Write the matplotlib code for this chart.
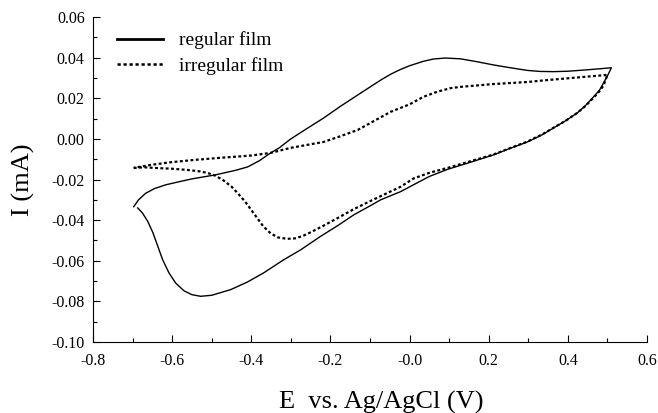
import matplotlib
matplotlib.use("Agg")
import matplotlib.pyplot as plt
from matplotlib.lines import Line2D
from matplotlib.ticker import MultipleLocator

plt.rcParams['font.family'] = ['Liberation Serif', 'DejaVu Serif']

# regular film: forward (lower) branch then reverse (upper) branch
reg_E = [-0.687, -0.675, -0.662, -0.649, -0.636, -0.624, -0.608, -0.591, -0.570, -0.550,
         -0.528, -0.500, -0.452, -0.410, -0.369, -0.318, -0.275, -0.225, -0.180, -0.141,
         -0.100, -0.073, -0.023, 0.010, 0.050, 0.096, 0.154, 0.212, 0.255, 0.298,
         0.335, 0.364, 0.395, 0.424, 0.445, 0.465, 0.480, 0.490, 0.500, 0.510,
         0.449, 0.400, 0.364, 0.330, 0.298, 0.255, 0.212, 0.170, 0.129, 0.090,
         0.060, 0.035, 0.000, -0.025, -0.048, -0.070, -0.090, -0.131, -0.175, -0.217,
         -0.260, -0.300, -0.330, -0.351, -0.380, -0.409, -0.440, -0.490, -0.550, -0.580,
         -0.616, -0.645, -0.667, -0.685, -0.697]
reg_I = [-0.0340, -0.0365, -0.0405, -0.0460, -0.0530, -0.0595, -0.0660, -0.0710, -0.0748, -0.0767,
         -0.0775, -0.0770, -0.0742, -0.0705, -0.0660, -0.0595, -0.0546, -0.0480, -0.0425, -0.0374,
         -0.0330, -0.0300, -0.0260, -0.0226, -0.0185, -0.0150, -0.0115, -0.0079, -0.0046, -0.0015,
         0.0020, 0.0054, 0.0090, 0.0128, 0.0165, 0.0207, 0.0240, 0.0275, 0.0310, 0.0350,
         0.0340, 0.0333, 0.0331, 0.0332, 0.0337, 0.0350, 0.0364, 0.0380, 0.0394, 0.0398,
         0.0393, 0.0382, 0.0360, 0.0340, 0.0318, 0.0293, 0.0268, 0.0216, 0.0160, 0.0103,
         0.0050, 0.0000, -0.0045, -0.0069, -0.0108, -0.0138, -0.0155, -0.0177, -0.0197, -0.0210,
         -0.0226, -0.0245, -0.0268, -0.0300, -0.0334]

# irregular film
irr_E = [-0.697, -0.670, -0.646, -0.600, -0.561, -0.530, -0.510, -0.490, -0.470, -0.450,
         -0.434, -0.415, -0.400, -0.385, -0.370, -0.351, -0.333, -0.310, -0.290, -0.270,
         -0.250, -0.215, -0.182, -0.140, -0.098, -0.060, -0.023, 0.010, 0.050, 0.096,
         0.154, 0.212, 0.255, 0.298, 0.335, 0.364, 0.395, 0.424, 0.445, 0.465,
         0.480, 0.490, 0.500,
         0.440, 0.381, 0.340, 0.298, 0.255, 0.212, 0.170, 0.129, 0.104, 0.070,
         0.035, 0.000, -0.048, -0.090, -0.131, -0.175, -0.217, -0.260, -0.300, -0.351,
         -0.400, -0.477, -0.540, -0.604, -0.650, -0.680, -0.697]
irr_I = [-0.0143, -0.0140, -0.0143, -0.0147, -0.0153, -0.0160, -0.0168, -0.0182, -0.0205, -0.0235,
         -0.0268, -0.0310, -0.0350, -0.0390, -0.0430, -0.0465, -0.0485, -0.0492, -0.0490, -0.0478,
         -0.0460, -0.0425, -0.0390, -0.0345, -0.0305, -0.0270, -0.0236, -0.0195, -0.0167, -0.0143,
         -0.0110, -0.0077, -0.0045, -0.0013, 0.0022, 0.0055, 0.0090, 0.0128, 0.0163, 0.0203,
         0.0235, 0.0262, 0.0315,
         0.0305, 0.0295, 0.0288, 0.0280, 0.0275, 0.0270, 0.0263, 0.0256, 0.0250, 0.0232,
         0.0207, 0.0170, 0.0133, 0.0088, 0.0044, 0.0013, -0.0015, -0.0030, -0.0044, -0.0069,
         -0.0082, -0.0093, -0.0103, -0.0115, -0.0127, -0.0137, -0.0143]

x_ticks = [-0.8, -0.6, -0.4, -0.2, 0.0, 0.2, 0.4, 0.6]
x_labels = ['-0.8', '-0.6', '-0.4', '-0.2', '-0.0', '0.2', '0.4', '0.6']
y_ticks = [-0.10, -0.08, -0.06, -0.04, -0.02, 0.00, 0.02, 0.04, 0.06]
y_labels = ['-0.10', '-0.08', '-0.06', '-0.04', '-0.02', '0.00', '0.02', '0.04', '0.06']

fig = plt.figure(figsize=(6.58, 4.13), dpi=100)
ax = fig.add_axes([93/658, 1 - 342/413, (647 - 93)/658, (342 - 17)/413])

dot_style = (0, (1.3, 1.1))
ax.plot(reg_E, reg_I, color='black', lw=1.0, solid_joinstyle='round')
ax.plot(irr_E, irr_I, color='black', lw=1.6, linestyle=dot_style)

ax.set_xlim(-0.8, 0.6)
ax.set_ylim(-0.10, 0.06)
ax.set_xticks(x_ticks)
ax.set_xticklabels(x_labels)
ax.set_yticks(y_ticks)
ax.set_yticklabels(y_labels)
ax.xaxis.set_minor_locator(MultipleLocator(0.1))
ax.yaxis.set_minor_locator(MultipleLocator(0.01))
ax.tick_params(which='both', direction='in', labelsize=11.5, width=0.8)
ax.tick_params(which='major', length=5)
ax.tick_params(which='minor', length=3)
ax.tick_params(axis='x', pad=8)
ax.tick_params(axis='y', pad=6)
for s in ['top', 'right']:
    ax.spines[s].set_visible(False)
for s in ['left', 'bottom']:
    ax.spines[s].set_linewidth(0.8)

ax.set_xlabel('E  vs. Ag/AgCl (V)', fontsize=19)
ax.xaxis.set_label_coords(0.52, -0.15)
ax.set_ylabel('I (mA)', fontsize=19, labelpad=12)

handles = [Line2D([0], [0], color='black', lw=2.0),
           Line2D([0], [0], color='black', lw=1.8, linestyle=dot_style)]
ax.legend(handles, ['regular film', 'irregular film'], loc='upper left',
          bbox_to_anchor=(0.025, 0.985), frameon=False, fontsize=14,
          handlelength=2.4, handletextpad=0.8, labelspacing=0.4, borderpad=0)

fig.savefig('out.png', dpi=100)
